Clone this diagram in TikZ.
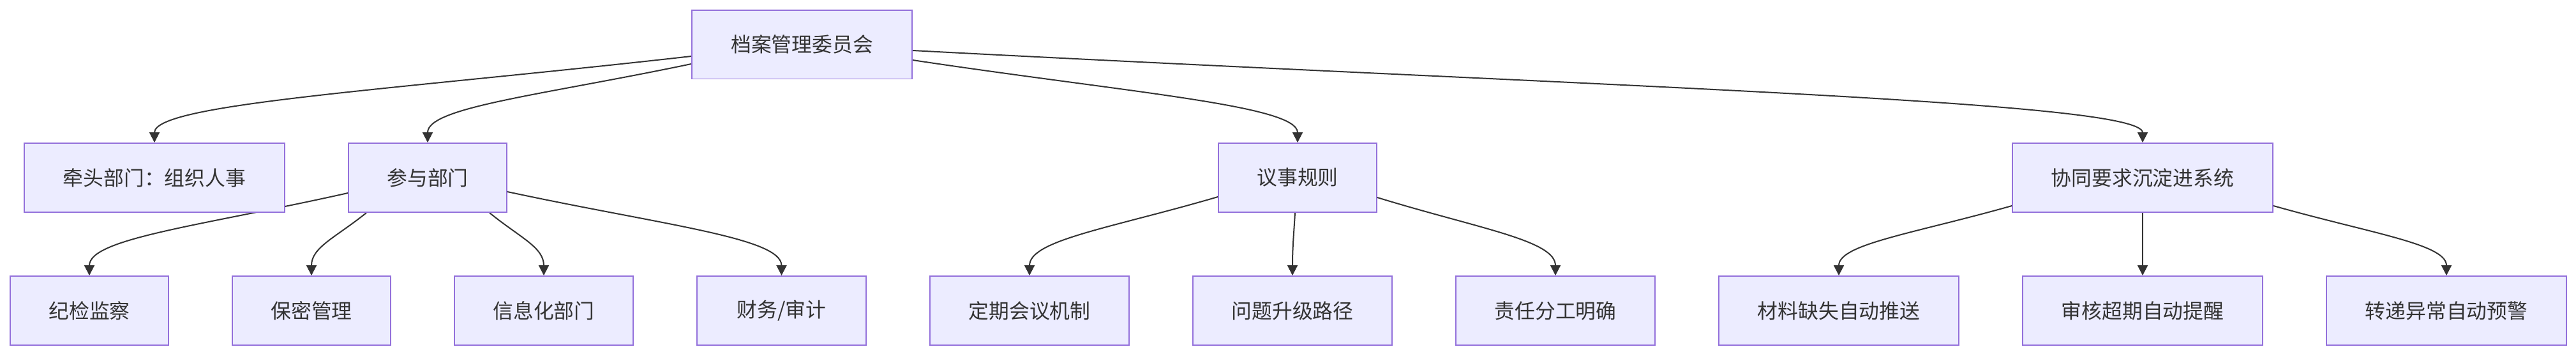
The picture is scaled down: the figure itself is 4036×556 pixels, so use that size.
\documentclass[tikz,border=0pt]{standalone}
\usepackage{fontspec}
\setmainfont{Noto Sans CJK SC}
\usetikzlibrary{arrows.meta,calc}
\definecolor{boxfill}{HTML}{ECECFF}
\definecolor{boxline}{HTML}{9370DB}
\definecolor{edgecol}{HTML}{333333}
\pgfdeclarelayer{bg}
\pgfsetlayers{bg,main}
\newcommand\curvedge[2]{\draw[edge] let \p1=(#1), \p2=(#2) in (\p1) .. controls ({\x1+0.57*(\x2-\x1)},{\y1+0.4*(\y2-\y1)}) and (\x2,{\y2-0.45*(\y2-\y1)}) .. (\p2);}
\begin{document}
\begin{tikzpicture}[x=0.02cm,y=-0.02cm,
  box/.style={draw=boxline,fill=boxfill,line width=0.04cm,minimum height=2.16cm,inner sep=0pt,
    text=edgecol,font=\fontsize{18.1pt}{22pt}\selectfont},
  edge/.style={draw=edgecol,line width=0.04cm,-{Triangle[length=0.32cm,width=0.32cm]}}]
\useasboundingbox (0,0) rectangle (4036,556);
% row 1
\node[box,minimum width=6.9cm] (root) at (1256.5,69.5) {档案管理委员会};
% row 2
\node[box,minimum width=8.16cm] (lead) at (242,278) {牵头部门：组织人事};
\node[box,minimum width=4.96cm] (part) at (670,278) {参与部门};
\node[box,minimum width=4.96cm] (rules) at (2033,278) {议事规则};
\node[box,minimum width=8.16cm] (sys) at (3357,278) {协同要求沉淀进系统};
% row 3
\node[box,minimum width=4.96cm] (jj) at (140,486) {纪检监察};
\node[box,minimum width=4.96cm] (bm) at (488,486) {保密管理};
\node[box,minimum width=5.6cm] (xx) at (852,486) {信息化部门};
\node[box,minimum width=5.3cm] (cw) at (1224.5,486) {财务/审计};
\node[box,minimum width=6.24cm] (dq) at (1613,486) {定期会议机制};
\node[box,minimum width=6.24cm] (wt) at (2025,486) {问题升级路径};
\node[box,minimum width=6.24cm] (zr) at (2437,486) {责任分工明确};
\node[box,minimum width=7.52cm] (cl) at (2881,486) {材料缺失自动推送};
\node[box,minimum width=7.52cm] (sh) at (3357,486) {审核超期自动提醒};
\node[box,minimum width=7.52cm] (zd) at (3833,486) {转递异常自动预警};
\begin{pgfonlayer}{bg}
\curvedge{$(root.west)+(0,18.5)$}{lead.north}
\curvedge{$(root.west)+(0,30.5)$}{part.north}
\curvedge{$(root.east)+(0,24.5)$}{rules.north}
\curvedge{$(root.east)+(0,9.5)$}{sys.north}
\curvedge{$(part.west)+(0,24)$}{jj.north}
\curvedge{$(part.south)+(-96,0)$}{bm.north}
\curvedge{$(part.south)+(97,0)$}{xx.north}
\curvedge{$(part.east)+(0,22)$}{cw.north}
\curvedge{$(rules.west)+(0,30)$}{dq.north}
\curvedge{$(rules.south)+(-4,0)$}{wt.north}
\curvedge{$(rules.east)+(0,31)$}{zr.north}
\curvedge{$(sys.west)+(0,44)$}{cl.north}
\curvedge{$(sys.south)$}{sh.north}
\curvedge{$(sys.east)+(0,44)$}{zd.north}
\end{pgfonlayer}
\end{tikzpicture}
\end{document}
